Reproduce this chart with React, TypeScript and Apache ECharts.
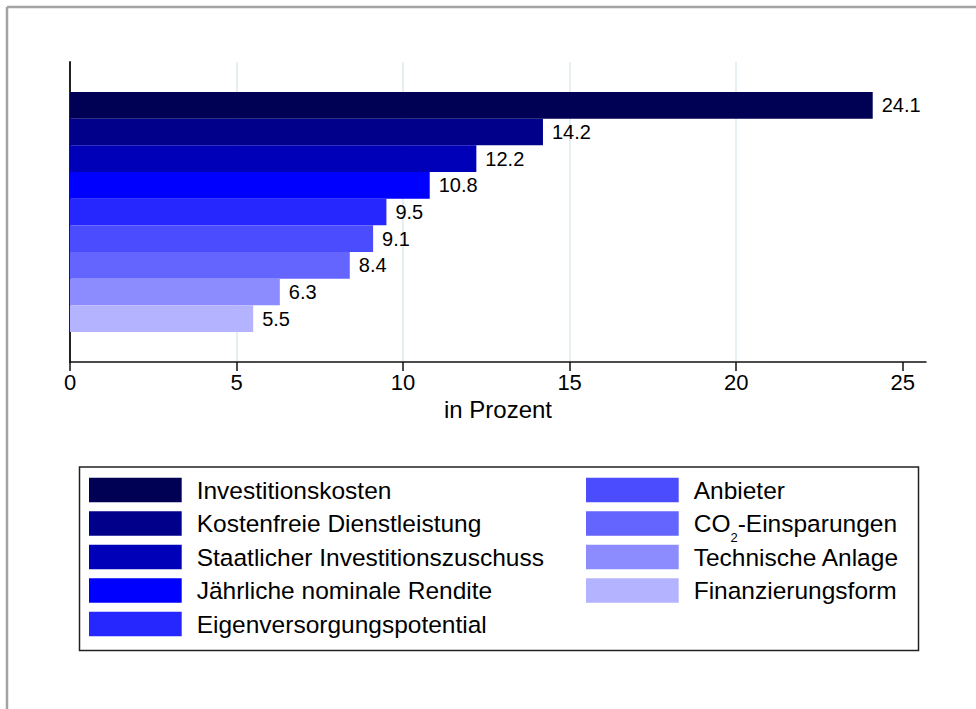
import React, { useEffect, useRef } from "react";
import * as echarts from "echarts";

const categories = [
  "Investitionskosten",
  "Kostenfreie Dienstleistung",
  "Staatlicher Investitionszuschuss",
  "Jährliche nominale Rendite",
  "Eigenversorgungspotential",
  "Anbieter",
  "CO2-Einsparungen",
  "Technische Anlage",
  "Finanzierungsform",
];
const values = [24.1, 14.2, 12.2, 10.8, 9.5, 9.1, 8.4, 6.3, 5.5];
const colors = [
  "#000055",
  "#00008b",
  "#0000b9",
  "#0000ff",
  "#2626ff",
  "#4c4cff",
  "#6464ff",
  "#8c8cff",
  "#b3b3ff",
];
const xTicks = [0, 5, 10, 15, 20, 25];
const xMax = 25.7;
const axisTitle = "in Prozent";

const FONT = "'Liberation Sans', Arial, Helvetica, sans-serif";

export default function App() {
  const ref = useRef<HTMLDivElement>(null);

  useEffect(() => {
    if (!ref.current) return;
    const chart = echarts.init(ref.current, undefined, { renderer: "svg" });

    const legendText = {
      fontSize: 24.5,
      lineHeight: 33.5,
      color: "#000",
      fontFamily: FONT,
      padding: [0, 0, 0, 10],
      rich: {
        sub: {
          fontSize: 13,
          lineHeight: 14,
          padding: [0, 0, -27, 0],
          color: "#000",
          fontFamily: FONT,
        },
      },
    };
    const legendFormatter = (name: string) =>
      name === "CO2-Einsparungen" ? "CO{sub|2}-Einsparungen" : name;

    const rowPitch = 33.5;
    const legendTop = 473.3;
    const makeLegend = (names: string[], left: number, top: number) => ({
      data: names,
      orient: "vertical",
      left,
      top,
      padding: 0,
      itemGap: 0,
      itemWidth: 92.7,
      itemHeight: 24.5,
      icon: "rect",
      selectedMode: false,
      textStyle: legendText,
      formatter: legendFormatter,
    });

    const option: any = {
      animation: false,
      backgroundColor: "#ffffff",
      textStyle: { fontFamily: FONT },
      grid: {
        left: 70,
        top: 62,
        width: 856,
        height: 300,
        containLabel: false,
        outerBoundsMode: "none",
      },
      xAxis: {
        type: "value",
        min: 0,
        max: xMax,
        interval: 5,
        axisLine: { show: true, lineStyle: { color: "#111", width: 1.5 } },
        axisTick: {
          show: true,
          length: 9,
          customValues: xTicks,
          lineStyle: { color: "#111", width: 1.5 },
        },
        axisLabel: {
          customValues: xTicks,
          margin: 9,
          fontSize: 22,
          color: "#000",
          fontFamily: FONT,
        },
        splitLine: {
          show: true,
          showMinLine: false,
          showMaxLine: false,
          lineStyle: { color: "#e8eff2", width: 2 },
        },
        name: axisTitle,
        nameLocation: "middle",
        nameGap: 35,
        nameTextStyle: { fontSize: 24, color: "#000", fontFamily: FONT },
      },
      yAxis: {
        type: "category",
        data: [""],
        inverse: true,
        axisLine: { show: true, lineStyle: { color: "#222", width: 2 } },
        axisTick: { show: false },
        axisLabel: { show: false },
        splitLine: { show: false },
      },
      legend: [
        makeLegend(categories.slice(0, 5), 89, legendTop),
        makeLegend(categories.slice(5, 7), 586, legendTop),
        makeLegend(categories.slice(7), 586, legendTop + 2 * rowPitch),
      ],
      series: categories.map((name, i) => ({
        type: "bar",
        name,
        data: [values[i]],
        itemStyle: { color: colors[i] },
        barGap: "0%",
        barCategoryGap: "20%",
        label: {
          show: true,
          position: "right",
          distance: 9,
          fontSize: 20,
          color: "#000",
          fontFamily: FONT,
          formatter: (p: any) => Number(p.value).toFixed(1),
        },
      })),
      graphic: [
        {
          type: "rect",
          shape: { x: 79.5, y: 467, width: 839, height: 183.5 },
          style: { fill: "none", stroke: "#222", lineWidth: 1.5 },
          silent: true,
        },
        {
          type: "line",
          shape: { x1: 7, y1: 7, x2: 976, y2: 7 },
          style: { stroke: "#a3a3a3", lineWidth: 2.5 },
          silent: true,
        },
        {
          type: "line",
          shape: { x1: 7, y1: 7, x2: 7, y2: 709 },
          style: { stroke: "#a3a3a3", lineWidth: 2.5 },
          silent: true,
        },
      ],
    };

    chart.setOption(option);
    return () => chart.dispose();
  }, []);

  return (
    <div
      ref={ref}
      style={{ position: "absolute", left: 0, top: 0, width: 976, height: 709 }}
    />
  );
}
